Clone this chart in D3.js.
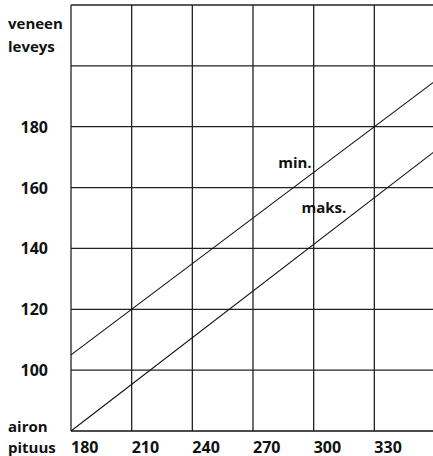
<!DOCTYPE html>
<html>
<head>
<meta charset="utf-8">
<script src="https://cdnjs.cloudflare.com/ajax/libs/d3/7.8.5/d3.min.js"></script>
<style>
    body { margin: 0; background: #fff; }
    svg text {
        font-family: 'Open Sans', 'Noto Sans', sans-serif;
        font-weight: 700;
        fill: #111;
    }
</style>
</head>
<body>
<div id="chart"></div>
<script>
// airon pituus (x) vs veneen leveys (y)
var x_ticks = [180, 210, 240, 270, 300, 330];
var y_ticks = [100, 120, 140, 160, 180];
var y_grid = [100, 120, 140, 160, 180, 200, 220];

var min_x = [180, 360];
var min_y = [105, 195];
var maks_x = [180, 360];
var maks_y = [80, 172];

var line_labels = [
    {text: 'min.', x: 299, y: 166.4, anchor: 'end'},
    {text: 'maks.', x: 294, y: 151.5, anchor: 'start'}
];

var width = 433, height = 456;

var plot = {
    'left': 71,
    'right': 435,
    'top': 5,
    'bottom': 431
};

var draw = function() {
    var svg = d3.select('#chart').append('svg')
        .attr('width', width)
        .attr('height', height);

    var x = d3.scaleLinear()
        .domain([180, 360])
        .range([plot.left, plot.right]);
    var y = d3.scaleLinear()
        .domain([80, 220])
        .range([plot.bottom, plot.top]);

    var grid = svg.append('g');

    grid.selectAll('line.v')
        .data(x_ticks)
        .enter()
        .append('line')
        .attr('class', 'v')
        .attr('x1', function(d) {return x(d)})
        .attr('x2', function(d) {return x(d)})
        .attr('y1', y(220))
        .attr('y2', y(80))
        .style('stroke', '#222')
        .style('stroke-width', 1.3);

    grid.selectAll('line.h')
        .data(y_grid)
        .enter()
        .append('line')
        .attr('class', 'h')
        .attr('x1', x(180))
        .attr('x2', width)
        .attr('y1', function(d) {return y(d)})
        .attr('y2', function(d) {return y(d)})
        .style('stroke', '#222')
        .style('stroke-width', 1.3);

    // x axis baseline
    grid.append('line')
        .attr('x1', x(180))
        .attr('x2', width)
        .attr('y1', y(80))
        .attr('y2', y(80))
        .style('stroke', '#111')
        .style('stroke-width', 1.5);

    var line = d3.line()
        .x(function(d) {return x(d[0])})
        .y(function(d) {return y(d[1])});

    svg.append('path')
        .datum(d3.zip(min_x, min_y))
        .attr('d', line)
        .style('fill', 'none')
        .style('stroke', '#111')
        .style('stroke-width', 1.1);

    svg.append('path')
        .datum(d3.zip(maks_x, maks_y))
        .attr('d', line)
        .style('fill', 'none')
        .style('stroke', '#111')
        .style('stroke-width', 1.1);

    // tick labels
    svg.append('g').selectAll('text')
        .data(y_ticks)
        .enter()
        .append('text')
        .attr('x', 48)
        .attr('y', function(d) {return y(d) + 6})
        .attr('text-anchor', 'end')
        .style('font-size', '16px')
        .text(function(d) {return d});

    svg.append('g').selectAll('text')
        .data(x_ticks)
        .enter()
        .append('text')
        .attr('x', function(d) {return x(d)})
        .attr('y', 452.5)
        .attr('text-anchor', 'start')
        .style('font-size', '16px')
        .text(function(d) {return d});

    // axis titles
    var titles = [
        {text: 'veneen', x: 8, y: 28.5},
        {text: 'leveys', x: 8, y: 51.5},
        {text: 'airon', x: 8, y: 431.5},
        {text: 'pituus', x: 8, y: 452.5}
    ];
    svg.append('g').selectAll('text')
        .data(titles)
        .enter()
        .append('text')
        .attr('x', function(d) {return d.x})
        .attr('y', function(d) {return d.y})
        .style('font-size', '15px')
        .text(function(d) {return d.text});

    svg.append('g').selectAll('text')
        .data(line_labels)
        .enter()
        .append('text')
        .attr('x', function(d) {return x(d.x)})
        .attr('y', function(d) {return y(d.y)})
        .attr('text-anchor', function(d) {return d.anchor})
        .style('font-size', '15px')
        .text(function(d) {return d.text});
};

draw();
</script>
</body>
</html>
